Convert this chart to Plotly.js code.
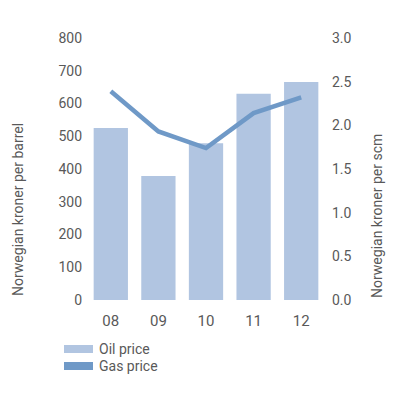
<!DOCTYPE html>
<html>
<head>
<meta charset="utf-8">
<script src="https://cdn.plot.ly/plotly-3.0.1.min.js"></script>
<style>html,body{margin:0;padding:0;background:#fff}</style>
</head>
<body>
<div id="chart" style="width:400px;height:400px"></div>
<script>
var years = ["08", "09", "10", "11", "12"];
var oilPrice = [525, 379, 479, 630, 666];
var gasPrice = [2.39, 1.93, 1.74, 2.14, 2.32];
var leftTicks = [0, 100, 200, 300, 400, 500, 600, 700, 800];
var rightTicks = [0, 0.5, 1.0, 1.5, 2.0, 2.5, 3.0];
var rightTickText = ["0.0", "0.5", "1.0", "1.5", "2.0", "2.5", "3.0"];
var legendLabels = ["Oil price", "Gas price"];
var titles = ["Norwegian kroner per barrel", "Norwegian kroner per scm"];

var oilColor = "#b1c5e1";
var gasColor = "#6f99c7";
var textColor = "#595959";
var fnt = {family: "Roboto, sans-serif", size: 14, color: textColor};

var traces = [
  {type: "bar", x: years, y: oilPrice, marker: {color: oilColor}, name: legendLabels[0], showlegend: false, hoverinfo: "none"},
  {type: "scatter", mode: "lines", x: years, y: gasPrice, yaxis: "y2", line: {color: gasColor, width: 4.5}, name: legendLabels[1], showlegend: false, hoverinfo: "none"}
];

function px(x) { return (x - 87) / 238; }
function py(y) { return (300 - y) / 262; }

var layout = {
  width: 400, height: 400,
  margin: {l: 87, r: 75, t: 38, b: 100},
  paper_bgcolor: "#fff", plot_bgcolor: "#fff",
  font: fnt,
  bargap: 0.28,
  showlegend: false,
  xaxis: {type: "category", showgrid: false, zeroline: false, showline: false, ticks: "", tickfont: {family: "Roboto, sans-serif", size: 15, color: textColor}, ticklabelstandoff: 10},
  yaxis: {range: [0, 800], tickvals: leftTicks, showgrid: false, zeroline: false, showline: false, ticks: "", tickfont: fnt, ticklabelstandoff: 4},
  yaxis2: {range: [0, 3], overlaying: "y", side: "right", tickvals: rightTicks, ticktext: rightTickText, showgrid: false, zeroline: false, showline: false, ticks: "", tickfont: fnt, ticklabelstandoff: 6},
  shapes: [
    {type: "rect", xref: "paper", yref: "paper", x0: px(64), x1: px(93), y0: py(353), y1: py(345), fillcolor: oilColor, line: {width: 0}},
    {type: "rect", xref: "paper", yref: "paper", x0: px(64), x1: px(93), y0: py(370), y1: py(362), fillcolor: gasColor, line: {width: 0}}
  ],
  annotations: [
    {xref: "paper", yref: "paper", x: px(97), y: py(349), xanchor: "left", yanchor: "middle", text: legendLabels[0], showarrow: false, font: {family: "Roboto, sans-serif", size: 14, color: textColor}},
    {xref: "paper", yref: "paper", x: px(97), y: py(366), xanchor: "left", yanchor: "middle", text: legendLabels[1], showarrow: false, font: {family: "Roboto, sans-serif", size: 14, color: textColor}},
    {xref: "paper", yref: "paper", x: px(18), y: py(210), xanchor: "center", yanchor: "middle", textangle: -90, text: titles[0], showarrow: false, font: {family: "Roboto, sans-serif", size: 14, color: textColor}},
    {xref: "paper", yref: "paper", x: px(377), y: py(216), xanchor: "center", yanchor: "middle", textangle: -90, text: titles[1], showarrow: false, font: {family: "Roboto, sans-serif", size: 14, color: textColor}}
  ]
};

Plotly.newPlot("chart", traces, layout, {displayModeBar: false, staticPlot: true});
</script>
</body>
</html>
